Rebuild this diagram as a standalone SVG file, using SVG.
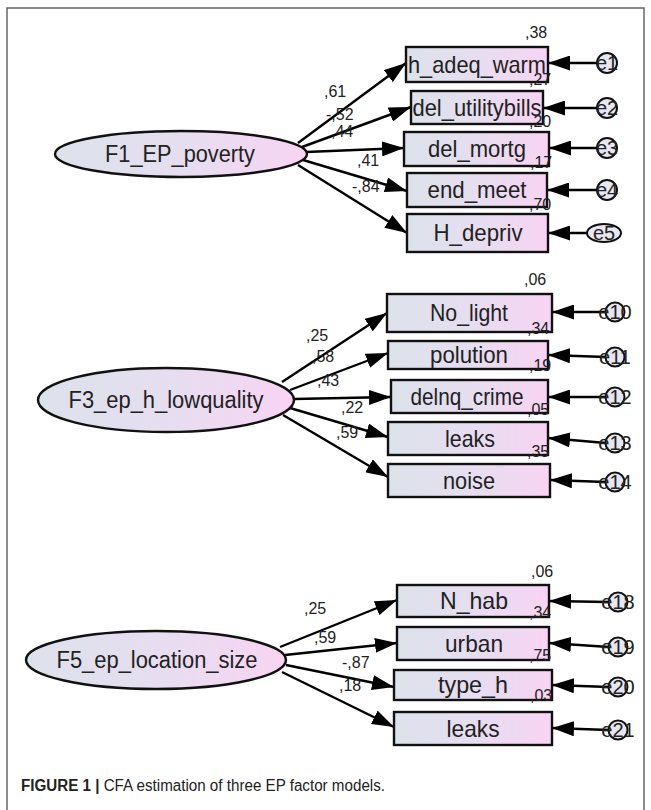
<svg xmlns="http://www.w3.org/2000/svg" width="651" height="810" viewBox="0 0 651 810">
<defs>
<linearGradient id="gb" x1="0" y1="0" x2="1" y2="0">
<stop offset="0" stop-color="#dce2ea"/>
<stop offset="0.5" stop-color="#e6def0"/>
<stop offset="1" stop-color="#f8d4f3"/>
</linearGradient>
<marker id="ah" markerUnits="userSpaceOnUse" markerWidth="22" markerHeight="15" viewBox="0 0 22 15" refX="22" refY="7.5" orient="auto">
<path d="M0,0 L22,7.5 L0,15 z" fill="#000"/>
</marker>
<style>
.box{fill:url(#gb);stroke:#111;stroke-width:2.4}
.lat{fill:url(#gb);stroke:#111;stroke-width:2.4}
.err{fill:#e8e6f0;stroke:#111;stroke-width:2}
.bt{font-family:"Liberation Sans",Arial,sans-serif;font-size:24px;fill:#222;text-anchor:middle}
.lt{font-family:"Liberation Sans",Arial,sans-serif;font-size:23px;fill:#222;text-anchor:middle}
.num{font-family:"Liberation Sans",Arial,sans-serif;font-size:16px;fill:#222}
.et{font-family:"Liberation Sans",Arial,sans-serif;font-size:20px;fill:#222;text-anchor:middle}
.cn line{stroke:#000;stroke-width:2.4;marker-end:url(#ah)}
.cap{font-family:"Liberation Sans",Arial,sans-serif;font-size:16px;fill:#222}
</style>
</defs>
<rect x="7" y="8" width="637" height="806" fill="#fff" stroke="#666" stroke-width="1.5"/>

<g id="connectors" class="cn">
<line x1="298" y1="143" x2="406" y2="63"/>
<line x1="302" y1="147" x2="411" y2="107"/>
<line x1="306" y1="152" x2="404" y2="148"/>
<line x1="303" y1="160" x2="407" y2="191"/>
<line x1="298" y1="165" x2="407" y2="233"/>
<line x1="597" y1="63" x2="548" y2="63"/>
<line x1="597" y1="108" x2="543" y2="108"/>
<line x1="597" y1="148" x2="549" y2="148"/>
<line x1="597" y1="190" x2="547" y2="190"/>
<line x1="587" y1="233" x2="548" y2="233"/>
<line x1="282" y1="382" x2="387" y2="313"/>
<line x1="290" y1="390" x2="388" y2="353"/>
<line x1="294" y1="399" x2="391" y2="397"/>
<line x1="290" y1="408" x2="388" y2="437"/>
<line x1="283" y1="415" x2="388" y2="477"/>
<line x1="606" y1="312" x2="552" y2="312"/>
<line x1="606" y1="357" x2="548" y2="355"/>
<line x1="606" y1="397" x2="548" y2="397"/>
<line x1="606" y1="443" x2="548" y2="438"/>
<line x1="606" y1="482" x2="550" y2="480"/>
<line x1="280" y1="647" x2="397" y2="600"/>
<line x1="285" y1="655" x2="397" y2="643"/>
<line x1="286" y1="665" x2="394" y2="687"/>
<line x1="282" y1="672" x2="394" y2="727"/>
<line x1="609" y1="602" x2="549" y2="601"/>
<line x1="609" y1="647" x2="549" y2="643"/>
<line x1="609" y1="687" x2="552" y2="685"/>
<line x1="609" y1="730" x2="552" y2="728"/>
</g>

<g id="F1_EP_poverty"><ellipse class="lat" cx="181" cy="154" rx="126" ry="23"/><text class="lt" x="180" y="162" textLength="150" lengthAdjust="spacingAndGlyphs">F1_EP_poverty</text></g>
<g id="h_adeq_warm"><rect class="box" x="406" y="47" width="142" height="35"/><text class="bt" x="477" y="73" textLength="138" lengthAdjust="spacingAndGlyphs">h_adeq_warm</text></g>
<g id="del_utilitybills"><rect class="box" x="411" y="91" width="132" height="33"/><text class="bt" x="477" y="116" textLength="129" lengthAdjust="spacingAndGlyphs">del_utilitybills</text></g>
<g id="del_mortg"><rect class="box" x="404" y="132" width="145" height="34"/><text class="bt" x="477" y="157" textLength="98" lengthAdjust="spacingAndGlyphs">del_mortg</text></g>
<g id="end_meet"><rect class="box" x="407" y="173" width="140" height="34"/><text class="bt" x="477" y="198" textLength="99" lengthAdjust="spacingAndGlyphs">end_meet</text></g>
<g id="H_depriv"><rect class="box" x="407" y="214" width="141" height="38"/><text class="bt" x="478" y="241" textLength="89" lengthAdjust="spacingAndGlyphs">H_depriv</text></g>
<g id="e1"><circle class="err" cx="607" cy="63" r="10"/><text class="et" x="607" y="70">e1</text></g>
<g id="e2"><circle class="err" cx="607" cy="108" r="10"/><text class="et" x="607" y="115">e2</text></g>
<g id="e3"><circle class="err" cx="607" cy="148" r="10"/><text class="et" x="607" y="155">e3</text></g>
<g id="e4"><circle class="err" cx="607" cy="190" r="10"/><text class="et" x="607" y="197">e4</text></g>
<g id="e5"><ellipse class="err" cx="604" cy="233" rx="17" ry="9"/><text class="et" x="604" y="240">e5</text></g>
<g id="F1_values">
<text class="num" x="525" y="38">,38</text>
<text class="num" x="529" y="85">,27</text>
<text class="num" x="529" y="127">,20</text>
<text class="num" x="530" y="168">,17</text>
<text class="num" x="529" y="210">,70</text>
<text class="num" x="324" y="97">,61</text>
<text class="num" x="326" y="120">-,52</text>
<text class="num" x="331" y="137">,44</text>
<text class="num" x="357" y="166">,41</text>
<text class="num" x="352" y="192">-,84</text>
</g>

<g id="F3_ep_h_lowquality"><ellipse class="lat" cx="166" cy="400" rx="128" ry="32"/><text class="lt" x="166" y="408" textLength="195" lengthAdjust="spacingAndGlyphs">F3_ep_h_lowquality</text></g>
<g id="No_light"><rect class="box" x="387" y="294" width="165" height="38"/><text class="bt" x="469" y="321" textLength="78" lengthAdjust="spacingAndGlyphs">No_light</text></g>
<g id="polution"><rect class="box" x="388" y="341" width="160" height="28"/><text class="bt" x="469" y="363" textLength="78" lengthAdjust="spacingAndGlyphs">polution</text></g>
<g id="delnq_crime"><rect class="box" x="391" y="380" width="157" height="33"/><text class="bt" x="467" y="405" textLength="113" lengthAdjust="spacingAndGlyphs">delnq_crime</text></g>
<g id="leaks1"><rect class="box" x="388" y="422" width="160" height="33"/><text class="bt" x="470" y="447" textLength="50" lengthAdjust="spacingAndGlyphs">leaks</text></g>
<g id="noise"><rect class="box" x="388" y="464" width="162" height="33"/><text class="bt" x="469" y="489" textLength="52" lengthAdjust="spacingAndGlyphs">noise</text></g>
<g id="e10"><circle class="err" cx="615" cy="312" r="9.5"/><text class="et" x="615" y="319">e10</text></g>
<g id="e11"><circle class="err" cx="615" cy="357" r="9.5"/><text class="et" x="615" y="364">e11</text></g>
<g id="e12"><circle class="err" cx="615" cy="397" r="9.5"/><text class="et" x="615" y="404">e12</text></g>
<g id="e13"><circle class="err" cx="615" cy="443" r="9.5"/><text class="et" x="615" y="450">e13</text></g>
<g id="e14"><circle class="err" cx="615" cy="482" r="9.5"/><text class="et" x="615" y="489">e14</text></g>
<g id="F3_values">
<text class="num" x="524" y="285">,06</text>
<text class="num" x="527" y="334">,34</text>
<text class="num" x="529" y="371">,19</text>
<text class="num" x="527" y="415">,05</text>
<text class="num" x="527" y="457">,35</text>
<text class="num" x="306" y="341">,25</text>
<text class="num" x="312" y="362">,58</text>
<text class="num" x="317" y="386">,43</text>
<text class="num" x="341" y="413">,22</text>
<text class="num" x="336" y="438">,59</text>
</g>

<g id="F5_ep_location_size"><ellipse class="lat" cx="156" cy="660" rx="130" ry="29"/><text class="lt" x="157" y="668" textLength="201" lengthAdjust="spacingAndGlyphs">F5_ep_location_size</text></g>
<g id="N_hab"><rect class="box" x="397" y="585" width="152" height="32"/><text class="bt" x="474" y="609" textLength="68" lengthAdjust="spacingAndGlyphs">N_hab</text></g>
<g id="urban"><rect class="box" x="397" y="627" width="152" height="33"/><text class="bt" x="474" y="652" textLength="58" lengthAdjust="spacingAndGlyphs">urban</text></g>
<g id="type_h"><rect class="box" x="394" y="670" width="158" height="30"/><text class="bt" x="473" y="693" textLength="70" lengthAdjust="spacingAndGlyphs">type_h</text></g>
<g id="leaks2"><rect class="box" x="394" y="712" width="158" height="33"/><text class="bt" x="473" y="737" textLength="53" lengthAdjust="spacingAndGlyphs">leaks</text></g>
<g id="e18"><circle class="err" cx="618" cy="602" r="9.5"/><text class="et" x="618" y="609">e18</text></g>
<g id="e19"><circle class="err" cx="618" cy="647" r="9.5"/><text class="et" x="618" y="654">e19</text></g>
<g id="e20"><circle class="err" cx="618" cy="687" r="9.5"/><text class="et" x="618" y="694">e20</text></g>
<g id="e21"><circle class="err" cx="618" cy="730" r="9.5"/><text class="et" x="618" y="737">e21</text></g>
<g id="F5_values">
<text class="num" x="531" y="577">,06</text>
<text class="num" x="529" y="618">,34</text>
<text class="num" x="529" y="661">,75</text>
<text class="num" x="530" y="701">,03</text>
<text class="num" x="304" y="614">,25</text>
<text class="num" x="314" y="643">,59</text>
<text class="num" x="342" y="668">-,87</text>
<text class="num" x="339" y="691">,18</text>
</g>

<text class="cap" x="21" y="791" textLength="364" lengthAdjust="spacingAndGlyphs"><tspan font-weight="bold">FIGURE 1 |</tspan> CFA estimation of three EP factor models.</text>
</svg>
